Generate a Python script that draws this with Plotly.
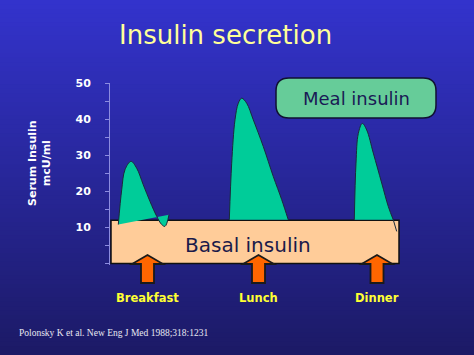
import plotly.graph_objects as go

# ---------------- data ----------------
y_ticks = [0, 5, 10, 15, 20, 25, 30, 35, 40, 45, 50]
y_tick_labels = ["", "", "10", "", "20", "", "30", "", "40", "", "50"]

basal_level = 12
basal_start = 0.1
basal_end = 28.9

meal_names = ["Breakfast", "Lunch", "Dinner"]
meal_times = [3.75, 14.85, 26.7]

breakfast_x = [0.83, 1.17, 1.5, 2.1, 2.67, 3.33, 4.0, 4.67, 5.17, 5.5, 5.9]
breakfast_y = [10.8, 20.4, 26.0, 28.3, 26.4, 21.8, 17.2, 13.1, 10.8, 10.3, 13.5]
lunch_x = [11.93, 12.17, 12.5, 12.83, 13.17, 13.67, 14.33, 15.33, 16.33, 17.17, 17.83]
lunch_y = [12.1, 27.8, 39.8, 44.4, 45.8, 44.4, 39.8, 32.4, 24.1, 17.7, 12.1]
dinner_x = [24.43, 24.6, 24.83, 25.23, 25.67, 26.33, 27.17, 27.83, 28.33]
dinner_y = [12.1, 27.8, 36.0, 38.8, 37.0, 30.6, 22.3, 15.8, 12.1]
dinner_tail_x = [28.33, 28.67]
dinner_tail_y = [12.1, 8.9]

# ---------------- layout geometry ----------------
W, H = 474, 355
ML, MR, MT, MB = 110, 64, 83, 90
PW, PH = W - ML - MR, H - MT - MB


def PX(px):
    return (px - ML) / PW


def PY(py):
    return (H - MB - py) / PH


fig = go.Figure()

for xs, ys in [(breakfast_x, breakfast_y), (lunch_x, lunch_y), (dinner_x, dinner_y)]:
    fig.add_trace(go.Scatter(
        x=xs, y=ys, mode="lines", fill="toself", fillcolor="#00cc99",
        line=dict(color="#1a2a3a", width=1, shape="spline", smoothing=1.0),
        hoverinfo="skip", showlegend=False))
fig.add_trace(go.Scatter(x=dinner_tail_x, y=dinner_tail_y, mode="lines",
                         line=dict(color="#1a2a3a", width=1),
                         hoverinfo="skip", showlegend=False))

shapes = []
# gradient background
top = (0x33, 0x33, 0xcc)
bot = (0x1c, 0x1a, 0x66)
N = 80
for i in range(N):
    t = i / (N - 1)
    c = tuple(int(round(top[k] + (bot[k] - top[k]) * t)) for k in range(3))
    y_top = H * i / N
    y_bot = H * (i + 1) / N + 1
    shapes.append(dict(type="rect", xref="paper", yref="paper",
                       x0=PX(-5), x1=PX(W + 5), y0=PY(y_bot), y1=PY(y_top),
                       fillcolor="rgb(%d,%d,%d)" % c, line=dict(width=0),
                       layer="below"))

# basal box
shapes.append(dict(type="rect", xref="x", yref="y", x0=basal_start, x1=basal_end,
                   y0=0, y1=basal_level, fillcolor="#ffcc99",
                   line=dict(color="#111111", width=1.5), layer="below"))

# meal arrows
for t in meal_times:
    path = ("M {a},{s} L {a},{h} L {b},{h} L {t},{p} L {c},{h} L {d},{h} L {d},{s} Z"
            .format(a=t - 0.65, b=t - 1.55, c=t + 1.55, d=t + 0.65, t=t,
                    s=PY(283), h=PY(264), p=PY(255)))
    shapes.append(dict(type="path", xref="x", yref="paper", path=path,
                       fillcolor="#ff6600", line=dict(color="#1a1a1a", width=1.8),
                       layer="above"))

# Meal insulin rounded box
x0, x1, y0, y1 = 276, 436, 78, 118
r = 13
rx, ry = r / PW, r / PH
X0, X1, Y0, Y1 = PX(x0), PX(x1), PY(y1), PY(y0)
path = (f"M {X0+rx},{Y0} L {X1-rx},{Y0} Q {X1},{Y0} {X1},{Y0+ry} "
        f"L {X1},{Y1-ry} Q {X1},{Y1} {X1-rx},{Y1} L {X0+rx},{Y1} "
        f"Q {X0},{Y1} {X0},{Y1-ry} L {X0},{Y0+ry} Q {X0},{Y0} {X0+rx},{Y0} Z")
shapes.append(dict(type="path", xref="paper", yref="paper", path=path,
                   fillcolor="#66cc99", line=dict(color="#111133", width=1.5),
                   layer="above"))

C = dict(xanchor="center", yanchor="middle", showarrow=False)
annotations = [
    dict(text="Insulin secretion", xref="paper", yref="paper", x=PX(225), y=PY(35),
         font=dict(family="DejaVu Sans", size=26, color="#ffff99"), **C),
    dict(text="Meal insulin", xref="paper", yref="paper", x=PX(356), y=PY(98),
         font=dict(family="DejaVu Sans", size=18, color="#1a1a55"), **C),
    dict(text="Basal insulin", xref="x", yref="paper", x=13.8, y=PY(245),
         font=dict(family="DejaVu Sans", size=20, color="#1a1a4a"), **C),
    dict(text="Serum Insulin<br>mcU/ml", xref="paper", yref="paper", x=PX(39), y=PY(163),
         textangle=-90,
         font=dict(family="DejaVu Sans", size=11, color="#ffffff", weight="bold"), **C),
    dict(text="Polonsky K et al. New Eng J Med 1988;318:1231", xref="paper", yref="paper",
         x=PX(17), y=PY(333), xanchor="left", yanchor="middle", showarrow=False,
         font=dict(family="Liberation Serif", size=9.5, color="#e8e8f2")),
]
for name, t in zip(meal_names, meal_times):
    annotations.append(dict(text=name, xref="x", yref="paper", x=t, y=PY(298),
                            font=dict(family="DejaVu Sans", size=11.5, color="#ffff33",
                                      weight="bold"), **C))

fig.update_layout(
    width=W, height=H,
    margin=dict(l=ML, r=MR, t=MT, b=MB, pad=0),
    paper_bgcolor="#28289a", plot_bgcolor="rgba(0,0,0,0)",
    shapes=shapes, annotations=annotations, showlegend=False,
    xaxis=dict(range=[0, PW / 10], visible=False, fixedrange=True),
    yaxis=dict(range=[-0.4, 50], showline=True, linecolor="#8c8ce0", linewidth=1,
               ticks="outside", ticklen=4, tickcolor="#8c8ce0",
               tickvals=y_ticks, ticktext=y_tick_labels, ticklabelstandoff=12,
               tickfont=dict(family="DejaVu Sans", size=11, color="#ffffff", weight="bold"),
               showgrid=False, zeroline=False, fixedrange=True),
)

fig.write_html("out.html", config={"displayModeBar": False},
               post_script="document.body.style.margin='0';document.body.style.overflow='hidden';")
